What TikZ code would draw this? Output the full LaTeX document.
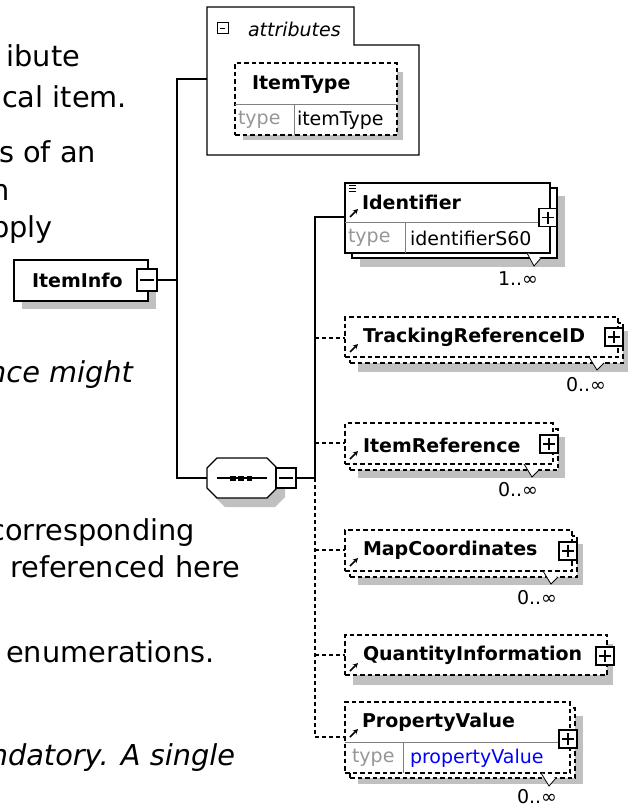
\documentclass[tikz,border=0pt]{standalone}
\usepackage{fontspec}
\setmainfont{DejaVu Sans}
\usetikzlibrary{arrows.meta}
\definecolor{shgray}{RGB}{192,192,192}
\definecolor{tygray}{RGB}{150,150,150}
\definecolor{dvgray}{RGB}{128,128,128}
\definecolor{refblue}{RGB}{0,0,255}
\begin{document}
\begin{tikzpicture}[x=1bp,y=-1bp,
  every node/.style={inner sep=0pt, outer sep=0pt},
  conn/.style={line width=1.3bp},
  dconn/.style={line width=1.3bp, dash pattern=on 4bp off 3bp},
  sbox/.style={draw, fill=white, line width=1.3bp, anchor=north west},
  dbox/.style={sbox, dash pattern=on 4.5bp off 3bp},
  shadowfill/.style={fill=shgray},
  ename/.style={font=\fontsize{19bp}{22bp}\selectfont\bfseries, anchor=west},
  dtext/.style={font=\fontsize{19bp}{22bp}\selectfont, anchor=west},
  tylabel/.style={dtext, text=tygray},
  occ/.style={font=\fontsize{19bp}{22bp}\selectfont},
  divider/.style={draw=dvgray, line width=1bp},
  body/.style={font=\fontsize{28.8bp}{34bp}\selectfont, anchor=base east},
  bodyit/.style={font=\fontsize{28.8bp}{34bp}\selectfont\itshape, anchor=base east},
  plusbox/.style={draw, fill=white, line width=1.2bp, minimum width=18bp, minimum height=18bp,
     path picture={\draw[line width=1.2bp] ([xshift=3bp]path picture bounding box.west) -- ([xshift=-3bp]path picture bounding box.east);
                   \draw[line width=1.2bp] ([yshift=-3bp]path picture bounding box.north) -- ([yshift=3bp]path picture bounding box.south);}},
  minusbox/.style={draw, fill=white, line width=1.2bp, minimum width=20bp, minimum height=20bp,
     path picture={\draw[line width=1.2bp] ([xshift=3bp]path picture bounding box.west) -- ([xshift=-3bp]path picture bounding box.east);}},
  refarrow/.style={-{Stealth[length=5bp,width=5bp]}, line width=1.5bp},
  notchline/.style={line width=0.8bp, fill=white},
  elemicon/.style={line width=0.9bp},
]
\useasboundingbox (0,0) rectangle (632,807);
\clip (0,0) rectangle (632,807);
\fill[white] (0,0) rectangle (632,807);

% ---- left text fragments
\node[body] (t1) at (80,67) {ibute};
\node[body] (t2) at (127,107) {cal item.};
\node[body] (t3) at (96,162) {s of an};
\node[body] (t4) at (10,200) {n};
\node[body] (t5) at (53,237) {pply};
\node[bodyit] (t6) at (133,382) {nce might};
\node[body] (t7) at (195,540) {corresponding};
\node[body] (t8) at (240,577) {referenced here};
\node[body] (t9) at (215,662) {enumerations.};
\node[bodyit] (t10) at (235,765) {ndatory. A single};

% ---- attributes group
\node[minimum width=212bp, minimum height=148bp, anchor=north west] (attr) at (207,7) {};
\draw[line width=1.4bp, fill=white] (attr.north west) -- (354,7) -- (354,45) -- (419,45) -- (attr.south east) -- (attr.south west) -- cycle;
\node[minusbox, minimum width=11bp, minimum height=11bp, line width=1bp] (attrminus) at (222.5,28.5) {};
\node[dtext, font=\fontsize{19bp}{22bp}\selectfont\itshape] (attrlbl) at (248,29) {attributes};

\fill[shadowfill] (243,72) rectangle (403,140);
\node[dbox, minimum width=162bp, minimum height=72bp] (itemtype) at (235,63) {};
\draw[divider] (235,104) -- (397,104);
\draw[divider] (294,104) -- (294,135);
\node[ename] (itlbl) at (252,85) {ItemType};
\node[tylabel] (ittype) at (238,120) {type};
\node[dtext] (itval) at (297,120) {itemType};

% ---- ItemInfo
\fill[shadowfill] (22,268) rectangle (156,309);
\node[sbox, minimum width=134bp, minimum height=41bp] (info) at (14,260) {};
\node[ename] (infolbl) at (32,280) {ItemInfo};
\node[minusbox, minimum width=20bp, minimum height=22bp] (infominus) at (147,280) {};

% ---- sequence
\node[minimum width=70bp, minimum height=40bp] (seq) at (242,478) {};
\fill[shadowfill] (225,467) -- (275,467) -- (285,477) -- (285,497) -- (275,507) -- (225,507) -- (215,497) -- (215,477) -- cycle;
\draw[line width=1.2bp, fill=white] (217,458) -- (267,458) -- (277,468) -- (277,488) -- (267,498) -- (217,498) -- (207,488) -- (207,468) -- cycle;
\draw[line width=1.2bp] (217,478) -- (267,478);
\fill (230,475.5) rectangle (235.5,480.5);
\fill (238,475.5) rectangle (243.5,480.5);
\fill (246.5,475.5) rectangle (252,480.5);
\node[minusbox] (seqminus) at (286,478) {};

% ---- spine 1
\coordinate (s1top) at (177,79);
\coordinate (s1mid) at (177,280);
\coordinate (s1bot) at (177,478);
\draw[conn] (attr.west |- s1top) -- (s1top) -- (s1bot) -- (seq.west);
\draw[conn] (infominus.east) -- (s1mid);

% ---- spine 2
\coordinate (s2mid) at (315,478);
\coordinate (s2top) at (315,217);
\coordinate (idenin) at (345,217);
\coordinate (s2bot) at (315,737);
\coordinate (pvin) at (345,737);
\coordinate (b1) at (315,338); \coordinate (trin) at (345,338);
\coordinate (b2) at (315,443); \coordinate (irin) at (345,443);
\coordinate (b3) at (315,550); \coordinate (mcin) at (345,550);
\coordinate (b4) at (315,655); \coordinate (qiin) at (345,655);
\draw[conn] (seqminus.east) -- (s2mid);
\draw[conn] (s2mid) -- (s2top) -- (idenin);
\draw[dconn] (s2mid) -- (s2bot) -- (pvin);
\draw[dconn] (b1) -- (trin);
\draw[dconn] (b2) -- (irin);
\draw[dconn] (b3) -- (mcin);
\draw[dconn] (b4) -- (qiin);

% ---- Identifier
\fill[shadowfill] (360,196) rectangle (565,267);
\node[sbox, minimum width=205bp, minimum height=70bp] (idenback) at (352,188) {};
\node[sbox, minimum width=205bp, minimum height=70bp] (iden) at (345,183) {};
\draw[divider] (345,222) -- (550,222);
\draw[divider] (405,222) -- (405,253);
\draw[elemicon] (349,185) -- (356,185) (349,188) -- (356,188) (349,191) -- (356,191);
\draw[refarrow] (350,217) -- (358,209);
\node[ename] (idenlbl) at (362,202) {Identifier};
\node[tylabel] (identy) at (348,238) {type};
\node[dtext] (idenval) at (410,238) {identifierS60};
\node[plusbox] (idenplus) at (548,217.5) {};
\filldraw[notchline] (527,253) -- (534,266) -- (541,258);
\node[occ] (idenocc) at (518,279) {1..∞};

% ---- TrackingReferenceID
\fill[shadowfill] (358,331) rectangle (628,372);
\node[dbox, minimum width=273bp, minimum height=40bp] (trback) at (350,323) {};
\node[dbox, minimum width=273bp, minimum height=40bp] (tr) at (345,317) {};
\draw[refarrow] (350,352) -- (358,344);
\node[ename] (trlbl) at (363,337) {TrackingReferenceID};
\node[plusbox] (trplus) at (614,337) {};
\filldraw[notchline] (589,357) -- (597,370) -- (604,363);
\node[occ] (trocc) at (586,385) {0..∞};

% ---- ItemReference
\fill[shadowfill] (358,437) rectangle (565,478);
\node[dbox, minimum width=208bp, minimum height=41bp] (irback) at (350,429) {};
\node[dbox, minimum width=208bp, minimum height=41bp] (ir) at (345,423) {};
\draw[refarrow] (350,459) -- (358,451);
\node[ename] (irlbl) at (363,445) {ItemReference};
\node[plusbox] (irplus) at (549,444) {};
\filldraw[notchline] (524,464) -- (532,477) -- (539,470);
\node[occ] (irocc) at (518,490) {0..∞};

% ---- MapCoordinates
\fill[shadowfill] (358,544) rectangle (583,585);
\node[dbox, minimum width=227bp, minimum height=41bp] (mcback) at (350,536) {};
\node[dbox, minimum width=227bp, minimum height=41bp] (mc) at (345,530) {};
\draw[refarrow] (350,566) -- (358,558);
\node[ename] (mclbl) at (363,550) {MapCoordinates};
\node[plusbox] (mcplus) at (568,551) {};
\filldraw[notchline] (543,571) -- (551,584) -- (558,577);
\node[occ] (mcocc) at (537,598) {0..∞};

% ---- QuantityInformation
\fill[shadowfill] (353,644) rectangle (613,685);
\node[dbox, minimum width=262bp, minimum height=40bp] (qi) at (345,635) {};
\draw[refarrow] (350,671) -- (358,663);
\node[ename] (qilbl) at (363,655) {QuantityInformation};
\node[plusbox] (qiplus) at (605,656) {};

% ---- PropertyValue
\fill[shadowfill] (358,716) rectangle (583,784);
\node[dbox, minimum width=225bp, minimum height=70bp] (pvback) at (350,708) {};
\node[dbox, minimum width=225bp, minimum height=71bp] (pv) at (345,702) {};
\draw[divider] (345,742) -- (570,742);
\draw[divider] (403,742) -- (403,773);
\draw[refarrow] (350,737) -- (358,729);
\node[ename] (pvlbl) at (362,722) {PropertyValue};
\node[tylabel] (pvty) at (352,758) {type};
\node[dtext, text=refblue] (pvval) at (410,758) {propertyValue};
\node[plusbox] (pvplus) at (568,739) {};
\filldraw[notchline] (541,773) -- (549,786) -- (556,778);
\node[occ] (pvocc) at (537,797) {0..∞};
\end{tikzpicture}
\end{document}
